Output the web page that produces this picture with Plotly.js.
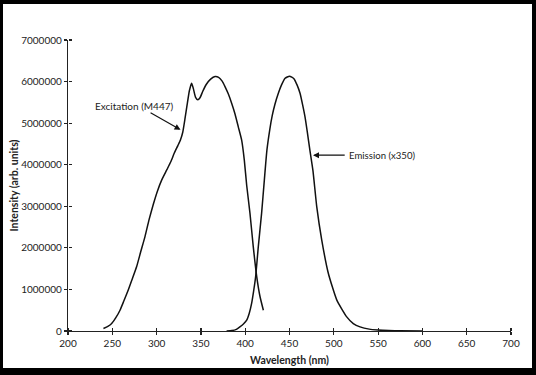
<!DOCTYPE html>
<html>
<head>
<meta charset="utf-8">
<script src="https://cdn.plot.ly/plotly-3.0.1.min.js"></script>
<style>
  html, body { margin: 0; padding: 0; background: #000; width: 536px; height: 375px; overflow: hidden; }
  #chart { position: absolute; left: 3px; top: 4px; width: 529px; height: 364px; background: #fff; }
</style>
</head>
<body>
<div id="chart"></div>
<script>
// Excitation (M447) spectrum
const excitationWavelength = [240, 245, 249.3, 254, 258.7, 263, 268.1, 272.5, 277.5, 282, 286.9, 291.5, 296.3, 301, 305.7, 311.6, 316, 320, 324, 327, 329.5, 332, 334.5, 337, 339.5, 341.5, 344, 346.5, 349, 352, 356, 361, 366, 370, 374, 377.2, 381, 384.7, 388.5, 392.2, 396, 399, 401.7, 405.4, 409.1, 413, 416.7, 420.5];
const excitationIntensity = [60000, 110000, 180000, 320000, 500000, 720000, 990000, 1250000, 1550000, 1900000, 2270000, 2680000, 3050000, 3370000, 3630000, 3880000, 4070000, 4280000, 4460000, 4600000, 4780000, 5100000, 5450000, 5780000, 5960000, 5830000, 5620000, 5560000, 5610000, 5760000, 5930000, 6060000, 6120000, 6100000, 6010000, 5880000, 5700000, 5480000, 5220000, 4910000, 4590000, 4110000, 3500000, 2830000, 2030000, 1310000, 830000, 500000];

// Emission (x350) spectrum
const emissionWavelength = [379, 385, 390, 394, 398, 401.7, 404.5, 407.3, 409.5, 411.8, 414.8, 418.5, 421.6, 424.5, 427.7, 430.5, 433.5, 437.4, 441, 445, 450, 455, 458.5, 461.9, 465, 467.5, 470, 473, 476.5, 480.7, 486.3, 493.8, 503.3, 514.6, 522, 529.6, 540, 550, 562, 575, 600];
const emissionIntensity = [0, 10000, 40000, 100000, 170000, 260000, 420000, 670000, 960000, 1310000, 2030000, 2830000, 3630000, 4350000, 4840000, 5180000, 5450000, 5720000, 5920000, 6080000, 6130000, 6070000, 5920000, 5720000, 5420000, 5150000, 4800000, 4350000, 3850000, 3000000, 2200000, 1390000, 750000, 340000, 180000, 100000, 45000, 25000, 12000, 5000, 0];

// Axis ticks
const xTickValues = [200, 250, 300, 350, 400, 450, 500, 550, 600, 650, 700];
const yTickValues = [0, 1000000, 2000000, 3000000, 4000000, 5000000, 6000000, 7000000];
const yTickLabels = ['0', '1000000', '2000000', '3000000', '4000000', '5000000', '6000000', '7000000'];

const FONT = 'Lato, "Open Sans", sans-serif';
const lineStyle = { color: '#111', width: 1.5, shape: 'spline', smoothing: 0.5 };

const traces = [
  { x: excitationWavelength, y: excitationIntensity, type: 'scatter', mode: 'lines', line: lineStyle, name: 'Excitation (M447)', hoverinfo: 'x+y' },
  { x: emissionWavelength, y: emissionIntensity, xaxis: 'x2', yaxis: 'y2', type: 'scatter', mode: 'lines', line: lineStyle, name: 'Emission (x350)', hoverinfo: 'x+y' }
];

const commonAxis = {
  showgrid: false, zeroline: false, showline: true, linecolor: '#222', linewidth: 1.2,
  tickcolor: '#222', tickwidth: 1.2, ticklen: 3, ticks: 'outside',
  tickfont: { family: FONT, size: 10, color: '#222' }
};

// second set of axes sitting on the same lines, ticks pointing into the plot
const overlayAxis = {
  ticks: 'outside', ticklen: 3, tickwidth: 1.2, tickcolor: '#222',
  showticklabels: false, showgrid: false, zeroline: false, showline: false,
  anchor: 'free', position: 0
};

const layout = {
  width: 529, height: 364,
  margin: { l: 65, r: 21, t: 36, b: 37 },
  paper_bgcolor: '#fff', plot_bgcolor: '#fff',
  showlegend: false,
  font: { family: FONT, color: '#222' },
  xaxis: Object.assign({}, commonAxis, {
    range: [200, 700], tickmode: 'array', tickvals: xTickValues,
    title: { text: 'Wavelength (nm)', font: { family: FONT, size: 10.5, weight: 'bold', color: '#222' }, standoff: 8 }
  }),
  yaxis: Object.assign({}, commonAxis, {
    range: [0, 7000000], tickmode: 'array', tickvals: yTickValues, ticktext: yTickLabels,
    title: { text: 'Intensity (arb. units)', font: { family: FONT, size: 10.5, weight: 'bold', color: '#222' }, standoff: 0 }
  }),
  xaxis2: Object.assign({}, overlayAxis, {
    overlaying: 'x', side: 'top', range: [200, 700], tickmode: 'array', tickvals: xTickValues
  }),
  yaxis2: Object.assign({}, overlayAxis, {
    overlaying: 'y', side: 'right', range: [0, 7000000], tickmode: 'array', tickvals: yTickValues
  }),
  annotations: [
    { x: 275, y: 5420000, xref: 'x', yref: 'y', text: 'Excitation (M447)', showarrow: false,
      font: { family: FONT, size: 10, color: '#222' } },
    { x: 327, y: 4840000, ax: 291.5, ay: 5270000, axref: 'x', ayref: 'y', xref: 'x', yref: 'y',
      text: '', showarrow: true, arrowhead: 2, arrowsize: 1, arrowwidth: 1.2, arrowcolor: '#111' },
    { x: 515, y: 4230000, xref: 'x', yref: 'y', xanchor: 'left', text: 'Emission (x350)', showarrow: false,
      font: { family: FONT, size: 9.6, color: '#222' } },
    { x: 476.5, y: 4230000, ax: 514, ay: 4230000, axref: 'x', ayref: 'y', xref: 'x', yref: 'y',
      text: '', showarrow: true, arrowhead: 2, arrowsize: 1, arrowwidth: 1.2, arrowcolor: '#111' }
  ]
};

Plotly.newPlot('chart', traces, layout, { displayModeBar: false, staticPlot: true });
</script>
</body>
</html>
